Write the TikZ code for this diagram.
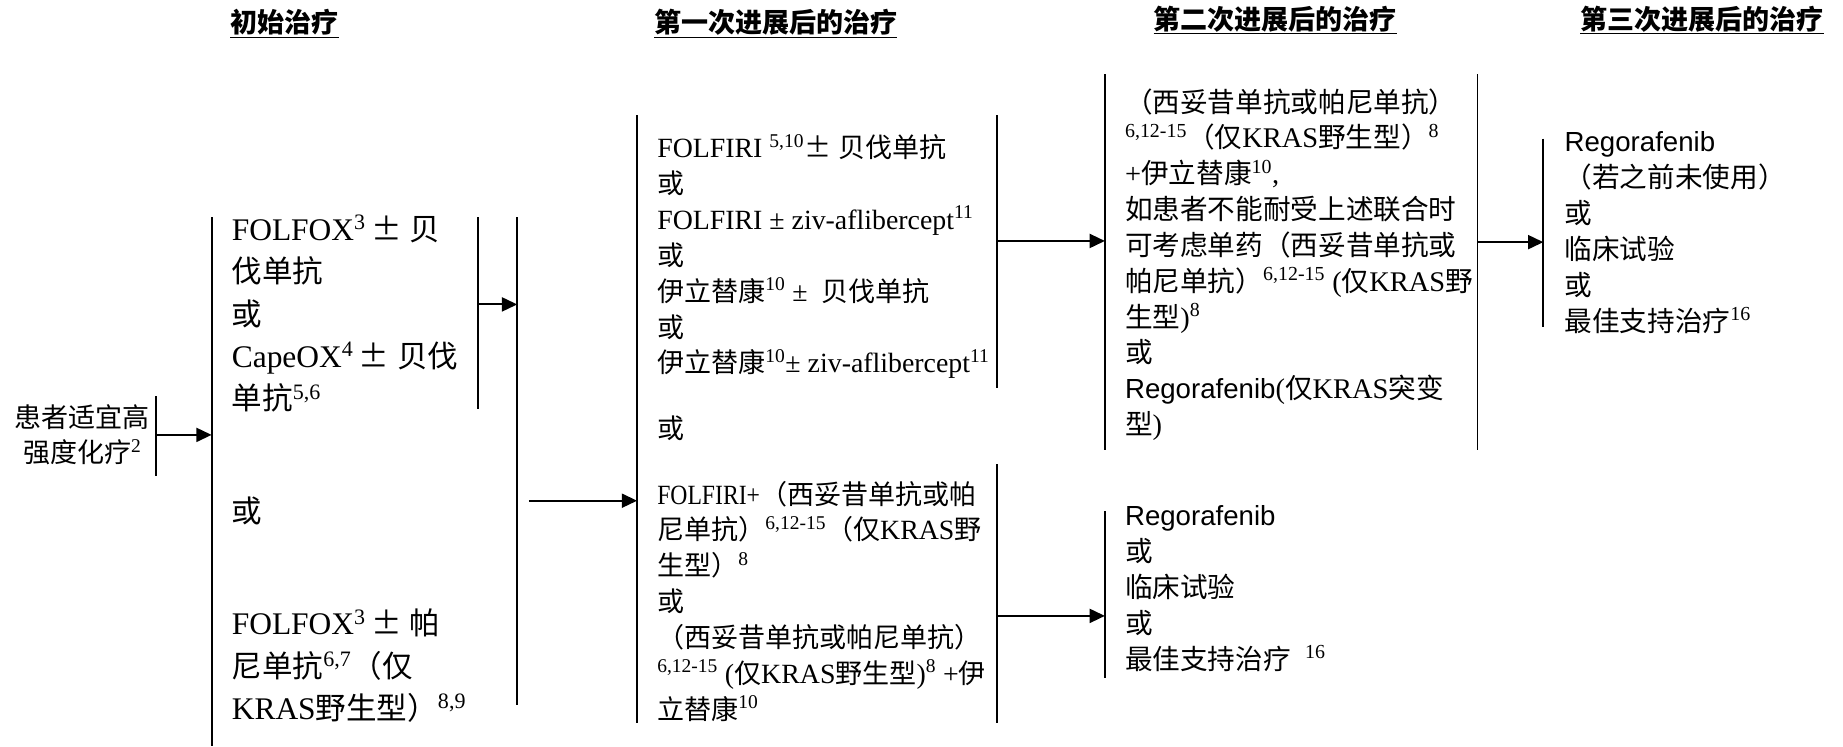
\documentclass[tikz,border=0pt]{standalone}
\usepackage{fontspec}
\setmainfont[Scale=1.03]{Liberation Serif}
\newfontfamily\zhfont{Noto Sans CJK SC}
\newfontfamily\arialfont{Liberation Sans}
\newcommand\zh[1]{{\zhfont #1}}
\newcommand\pmzh{\,\zh{±}}
\usetikzlibrary{arrows.meta}

\begin{document}
\begin{tikzpicture}[x=1pt,y=-1pt,
  bar/.style={line width=1.6pt},
  arr/.style={line width=1.6pt,-{Triangle[length=13pt,width=12pt]}},
  txt/.style={anchor=north west,inner sep=0pt,align=left,font=\fontsize{23.5}{30.5}\selectfont},
  midtxt/.style={txt,font=\fontsize{23}{30.5}\selectfont},
  bigtxt/.style={txt,font=\fontsize{26}{36}\selectfont},
  head/.style={inner sep=0pt,font=\fontsize{23}{28}\selectfont\zhfont\bfseries}]

\useasboundingbox (0,0) rectangle (1568,635);

% headings
\node[head] (h0) at (242,20) {\underline{初始治疗}};
\node[head] (h1) at (660,20) {\underline{第一次进展后的治疗}};
\node[head] (h2) at (1085,17) {\underline{第二次进展后的治疗}};
\node[head] (h3) at (1448,17) {\underline{第三次进展后的治疗}};

% patient
\node[align=center,inner sep=0pt,font=\zhfont\fontsize{23}{30}\selectfont] (patient) at (70,370)
  {患者适宜高\\强度化疗\textsuperscript{\rmfamily 2}};

% initial treatment
\node[bigtxt] (init1) at (197,183) {FOLFOX\textsuperscript{3}\pmzh\ \zh{贝}\\
  \zh{伐单抗}\\
  \zh{或}\\
  CapeOX\textsuperscript{4}\pmzh\ \zh{贝伐}\\
  \zh{单抗}\textsuperscript{5,6}};
\node[bigtxt,anchor=west] (init2) at (197,435) {\zh{或}};
\node[bigtxt] (init3) at (197,518) {FOLFOX\textsuperscript{3}\pmzh\ \zh{帕}\\
  \zh{尼单抗}\textsuperscript{6,7}\zh{（仅}\\
  KRAS\zh{野生型）}\textsuperscript{8,9}};

% first progression
\node[midtxt] (first1) at (559,114) {FOLFIRI \textsuperscript{5,10}\zh{±} \zh{贝伐单抗}\\
  \zh{或}\\
  FOLFIRI ± ziv-aflibercept\textsuperscript{11}\\
  \zh{或}\\
  \zh{伊立替康}\textsuperscript{10} ±\ \ \zh{贝伐单抗}\\
  \zh{或}\\
  \zh{伊立替康}\textsuperscript{10}± ziv-aflibercept\textsuperscript{11}};
\node[midtxt,anchor=west] (first2) at (559,364) {\zh{或}};
\node[midtxt] (first3) at (559,409) {\scalebox{0.85}[1]{FOLFIRI+}\zh{（西妥昔单抗或帕}\\
  \zh{尼单抗）}\textsuperscript{6,12-15}\zh{（仅}KRAS\zh{野}\\
  \zh{生型）}\textsuperscript{8}\\
  \zh{或}\\
  \zh{（西妥昔单抗或帕尼单抗）}\\
  \textsuperscript{6,12-15} (\zh{仅}KRAS\zh{野生型})\textsuperscript{8} +\zh{伊}\\
  \zh{立替康}\textsuperscript{10}};

% second progression
\node[txt] (second1) at (957,75) {\zh{（西妥昔单抗或帕尼单抗）}\\
  \textsuperscript{6,12-15}\zh{（仅}KRAS\zh{野生型）}\textsuperscript{8}\\
  +\zh{伊立替康}\textsuperscript{10},\\
  \zh{如患者不能耐受上述联合时}\\
  \zh{可考虑单药（西妥昔单抗或}\\
  \zh{帕尼单抗）}\textsuperscript{6,12-15} (\zh{仅}KRAS\zh{野}\\
  \zh{生型})\textsuperscript{8}\\
  \zh{或}\\
  {\arialfont Regorafenib}(\zh{仅}KRAS\zh{突变}\\
  \zh{型})};
\node[txt] (second2) at (957,430) {{\arialfont Regorafenib}\\
  \zh{或}\\
  \zh{临床试验}\\
  \zh{或}\\
  \zh{最佳支持治疗}\ \ \textsuperscript{16}};

% third progression
\node[txt] (third1) at (1331,112) {{\arialfont Regorafenib}\\
  \zh{（若之前未使用）}\\
  \zh{或}\\
  \zh{临床试验}\\
  \zh{或}\\
  \zh{最佳支持治疗}\textsuperscript{16}};

% bars
\coordinate (b0t) at (133,337);  \coordinate (b0b) at (133,405);
\coordinate (b1t) at (180,185);  \coordinate (b1b) at (180,635);
\coordinate (b2t) at (407,185);  \coordinate (b2b) at (407,348);
\coordinate (b3t) at (440,185);  \coordinate (b3b) at (440,600);
\coordinate (b4t) at (542,98);   \coordinate (b4b) at (542,615);
\coordinate (b5t) at (848,98);   \coordinate (b5b) at (848,330);
\coordinate (b6t) at (848,395);  \coordinate (b6b) at (848,615);
\coordinate (b7t) at (940,63);   \coordinate (b7b) at (940,383);
\coordinate (b8t) at (1257,63);  \coordinate (b8b) at (1257,383);
\coordinate (b9t) at (1313,118); \coordinate (b9b) at (1313,278);
\coordinate (b10t) at (940,435); \coordinate (b10b) at (940,577);

\draw[bar] (b0t) -- (b0b);
\draw[bar] (b1t) -- (b1b);
\draw[bar] (b2t) -- (b2b);
\draw[bar] (b3t) -- (b3b);
\draw[bar] (b4t) -- (b4b);
\draw[bar] (b5t) -- (b5b);
\draw[bar] (b6t) -- (b6b);
\draw[bar] (b7t) -- (b7b);
\draw[bar] (b8t) -- (b8b);
\draw[bar] (b9t) -- (b9b);
\draw[bar] (b10t) -- (b10b);

% arrows
\coordinate (j1) at (407,259);
\coordinate (j2) at (450,426);
\coordinate (j3) at (848,205);
\coordinate (j4) at (848,524);
\coordinate (j5) at (1257,206);
\draw[arr] (b0t |- patient.center) -- (b1t |- patient.center);
\draw[arr] (j1) -- (j1 -| b3t);
\draw[arr] (j2) -- (j2 -| b4t);
\draw[arr] (j3) -- (j3 -| b7t);
\draw[arr] (j4) -- (j4 -| b10t);
\draw[arr] (j5) -- (j5 -| b9t);

\end{tikzpicture}
\end{document}
